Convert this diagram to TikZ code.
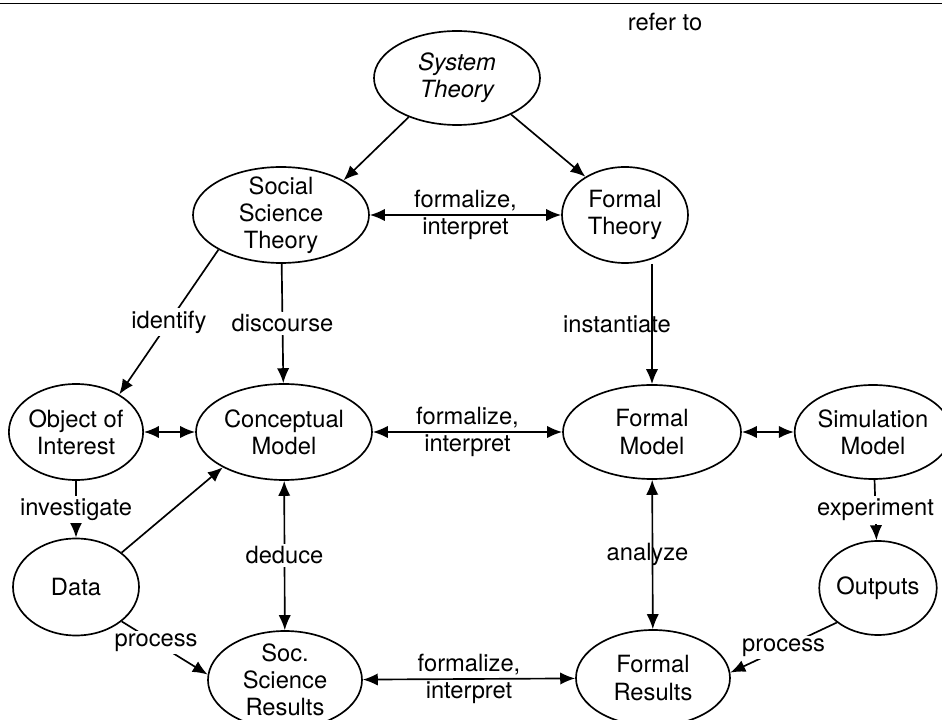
\documentclass[tikz,border=0pt]{standalone}
\usepackage{fontspec}
\setmainfont{TeX Gyre Heros}
\usetikzlibrary{arrows.meta,shapes.geometric}
\tikzset{
  blob/.style={draw,ellipse,inner sep=0pt,align=center},
  tip/.style={-{Latex[length=8.5pt,width=7pt]}},
  twotip/.style={{Latex[length=8.5pt,width=7pt]}-{Latex[length=8.5pt,width=7pt]}},
  lbl/.style={fill=white,inner sep=1.5pt},
  lblplain/.style={align=center,inner sep=0pt}
}
\newcommand{\txtsize}{\fontsize{13.5}{15.5}\selectfont}

\begin{document}
\begin{tikzpicture}[line width=0.95pt,font=\txtsize]
\useasboundingbox (0,0) rectangle (18.84,14.4);
\draw[line width=0.7pt] (0,14.334) -- (18.84,14.334);
\node (refer) at (13.30,13.96) {refer to};

% theories
\node[blob,minimum width=3.32cm,minimum height=1.88cm] (sys) at (9.14,12.84) {\itshape System\\ \itshape Theory};
\node[blob,minimum width=3.52cm,minimum height=1.92cm,inner ysep=-4pt] (sst) at (5.62,10.10) {Social\\Science\\Theory};
\node[blob,minimum width=2.52cm,minimum height=1.92cm] (ft) at (12.50,10.10) {Formal\\Theory};

% models
\node[blob,minimum width=2.52cm,minimum height=1.92cm] (ooi) at (1.52,5.76) {Object of\\Interest};
\node[blob,minimum width=3.52cm,minimum height=1.92cm] (cm) at (5.68,5.76) {Conceptual\\Model};
\node[blob,minimum width=3.56cm,minimum height=1.88cm] (fm) at (13.04,5.76) {Formal\\Model};
\node[blob,minimum width=2.76cm,minimum height=1.88cm] (sim) at (17.46,5.76) {Simulation\\Model};

% results
\node[blob,minimum width=2.52cm,minimum height=1.94cm] (data) at (1.52,2.66) {Data};
\node[blob,minimum width=2.20cm,minimum height=1.88cm] (out) at (17.56,2.64) {Outputs};
\node[blob,minimum width=3.08cm,minimum height=1.96cm,inner ysep=-4pt] (ssr) at (5.70,0.80) {Soc.\\Science\\Results};
\node[blob,minimum width=3.08cm,minimum height=1.92cm] (fr) at (13.06,0.84) {Formal\\Results};

\draw[tip] (sys.219) -- (sst.29);
\draw[tip] (sys.326) -- (ft.136);
\draw[twotip] (sst) -- (ft) node[midway,lblplain] {formalize,\\interpret};
\draw[tip] (sst.209) -- (ooi.41) node[midway,lbl] {identify};
\draw[tip] (sst) -- (cm) node[midway,lbl] {discourse};
\draw[tip] (fm |- ft.south) -- (fm) node[midway,xshift=-0.7cm] {instantiate};

\draw[twotip] (ooi) -- (cm);
\draw[twotip] (cm) -- (fm) node[midway,lblplain] {formalize,\\interpret};
\draw[twotip] (fm) -- (sim);

\draw[tip] (ooi) -- (data) node[midway,lbl] {investigate};
\draw[tip] (data.37) -- (cm.210);
\draw[twotip] (cm) -- (ssr) node[midway,lbl] {deduce};
\draw[twotip] (fm) -- (fr) node[midway,xshift=-0.1cm] {analyze};
\draw[tip] (sim) -- (out) node[midway,lbl] {experiment};

\draw[tip] (data.323) -- (ssr.176) node[pos=0.4,lbl] {process};
\draw[tip] (out.220) -- (fr.4) node[midway,lbl] {process};
\draw[twotip] (ssr) -- (fr) node[midway,lblplain] {formalize,\\interpret};
\end{tikzpicture}
\end{document}
